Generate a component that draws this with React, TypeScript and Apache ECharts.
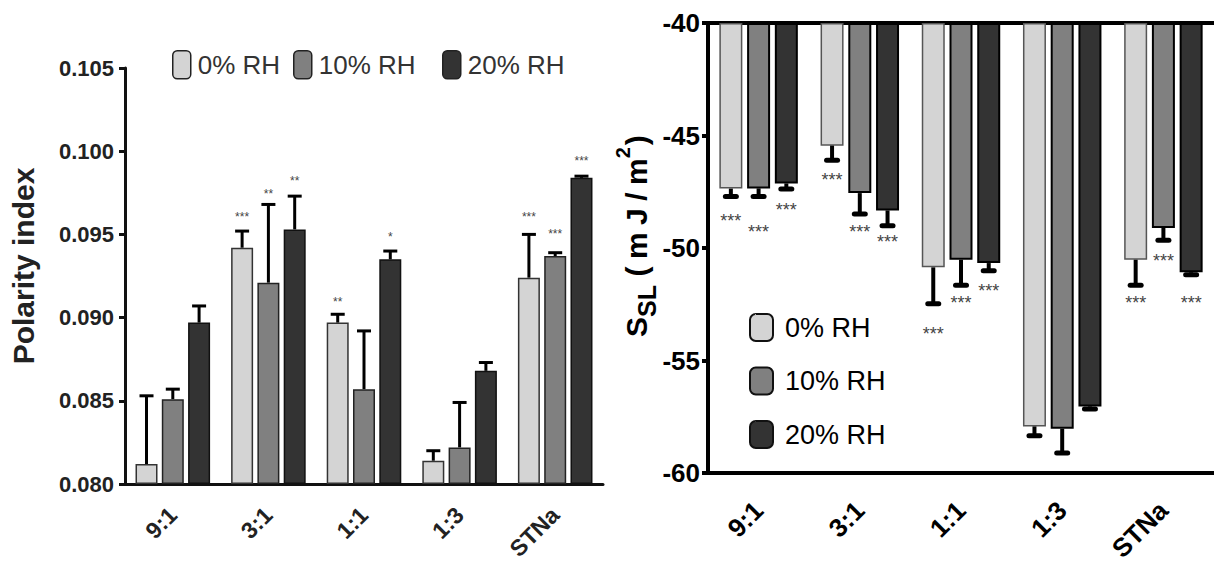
import React, { useEffect, useRef } from 'react';
import * as echarts from 'echarts';

// ---------- data ----------
const CATEGORIES = ['9:1', '3:1', '1:1', '1:3', 'STNa'];
const SERIES_NAMES = ['0% RH', '10% RH', '20% RH'];

// Polarity index (left chart)
const POL_RH0 = [0.0812, 0.0942, 0.0897, 0.0814, 0.0924];
const POL_RH10 = [0.0851, 0.0921, 0.0857, 0.0822, 0.0937];
const POL_RH20 = [0.0897, 0.0953, 0.0935, 0.0868, 0.0984];
const POL_SD_RH0 = [0.0041, 0.0010, 0.0005, 0.0006, 0.0026];
const POL_SD_RH10 = [0.0006, 0.0047, 0.0035, 0.0027, 0.0002];
const POL_SD_RH20 = [0.0010, 0.0020, 0.0005, 0.0005, 0.0001];
const POL_STARS_RH0 = ['', '***', '**', '', '***'];
const POL_STARS_RH10 = ['', '**', '', '', '***'];
const POL_STARS_RH20 = ['', '**', '*', '', '***'];
const POL_STAR_POS_RH0 = [null, 0.0962, 0.0911, null, 0.0962];
const POL_STAR_POS_RH10 = [null, 0.0976, null, null, 0.0952];
const POL_STAR_POS_RH20 = [null, 0.0984, 0.0950, null, 0.0996];
const POL_TICKS = { min: 0.08, max: 0.105, interval: 0.005 };

// S_SL (right chart)
const SSL_RH0 = [-47.36, -45.45, -50.86, -57.93, -50.52];
const SSL_RH10 = [-47.35, -47.56, -50.52, -58.03, -49.11];
const SSL_RH20 = [-47.13, -48.33, -50.67, -57.04, -51.08];
const SSL_SD_RH0 = [0.35, 0.65, 1.62, 0.41, 1.14];
const SSL_SD_RH10 = [0.36, 0.93, 1.14, 1.08, 0.55];
const SSL_SD_RH20 = [0.25, 0.68, 0.34, 0.12, 0.11];
const SSL_STARS_RH0 = ['***', '***', '***', '', '***'];
const SSL_STARS_RH10 = ['***', '***', '***', '', '***'];
const SSL_STARS_RH20 = ['***', '***', '***', '', '***'];
const SSL_STAR_POS_RH0 = [-48.62, -46.79, -53.63, null, -52.25];
const SSL_STAR_POS_RH10 = [-49.11, -49.11, -52.25, null, -50.42];
const SSL_STAR_POS_RH20 = [-48.15, -49.56, -51.72, null, -52.25];
const SSL_TICKS = { min: -60, max: -40, interval: 5 };

// ---------- styling ----------
const FONT = 'Liberation Sans, Arial, sans-serif';
const COLORS = ['#d4d4d4', '#808080', '#333333'];

const L_BAR_W = 22;
const L_GAP = 0.195;
const R_BAR_W = 23;
const R_GAP = 0.206;

function barSeries(name: string, data: number[], color: string, borderColor: string, borderWidth: number,
  axisIdx: number, barWidth: number, gap: number) {
  return {
    type: 'bar', name, data, xAxisIndex: axisIdx, yAxisIndex: axisIdx,
    barWidth, barGap: Math.round(gap * 1000) / 10 + '%',
    itemStyle: { color, borderColor, borderWidth },
    silent: true, clip: true, z: 2,
  };
}

function errorSeries(o: any) {
  const { id, axisIdx, values, sds, dir, offset, stars, starPos, lineWidth, capWidth, capThickness, capRound,
    starSize, starColor, starShift } = o;
  return {
    type: 'custom', name: id, xAxisIndex: axisIdx, yAxisIndex: axisIdx, z: 5, silent: true,
    data: values.map((v: number, i: number) => [i, v, v + dir * sds[i]]),
    encode: { x: 0, y: [1, 2] },
    renderItem: (params: any, api: any) => {
      const i = params.dataIndex;
      const cat = api.value(0);
      const p0 = api.coord([cat, api.value(1)]);
      const p1 = api.coord([cat, api.value(2)]);
      const x = p0[0] + offset;
      const children: any[] = [
        { type: 'line', shape: { x1: x, y1: p0[1], x2: x, y2: p1[1] }, style: { stroke: '#000', lineWidth } },
        {
          type: 'line', shape: { x1: x - capWidth / 2, y1: p1[1], x2: x + capWidth / 2, y2: p1[1] },
          style: { stroke: '#000', lineWidth: capThickness, lineCap: capRound ? 'round' : 'butt' },
        },
      ];
      if (stars[i] && starPos[i] != null) {
        const ps = api.coord([cat, starPos[i]]);
        children.push({
          type: 'text', x, y: ps[1] + starShift,
          style: { text: stars[i], fontSize: starSize, fontFamily: FONT, fill: starColor, align: 'center', verticalAlign: 'middle' },
        });
      }
      return { type: 'group', children };
    },
  };
}

function buildOption() {
  const lOff = L_BAR_W * (1 + L_GAP);
  const rOff = R_BAR_W * (1 + R_GAP);
  const polVals = [POL_RH0, POL_RH10, POL_RH20];
  const polSd = [POL_SD_RH0, POL_SD_RH10, POL_SD_RH20];
  const polStars = [POL_STARS_RH0, POL_STARS_RH10, POL_STARS_RH20];
  const polStarPos = [POL_STAR_POS_RH0, POL_STAR_POS_RH10, POL_STAR_POS_RH20];
  const sslVals = [SSL_RH0, SSL_RH10, SSL_RH20];
  const sslSd = [SSL_SD_RH0, SSL_SD_RH10, SSL_SD_RH20];
  const sslStars = [SSL_STARS_RH0, SSL_STARS_RH10, SSL_STARS_RH20];
  const sslStarPos = [SSL_STAR_POS_RH0, SSL_STAR_POS_RH10, SSL_STAR_POS_RH20];

  const leftBorders = [['#333', 1.5], ['#222', 1.5], ['#111', 1.5]];
  const rightBorders = [['#555', 1.5], ['#000', 2], ['#000', 2]];

  const series: any[] = [];
  SERIES_NAMES.forEach((n, k) => {
    series.push(barSeries(n, polVals[k], COLORS[k], leftBorders[k][0] as string, leftBorders[k][1] as number, 0, L_BAR_W, L_GAP));
  });
  SERIES_NAMES.forEach((n, k) => {
    series.push(barSeries(n, sslVals[k], COLORS[k], rightBorders[k][0] as string, rightBorders[k][1] as number, 1, R_BAR_W, R_GAP));
  });
  SERIES_NAMES.forEach((n, k) => {
    series.push(errorSeries({
      id: 'errL' + k, axisIdx: 0, values: polVals[k], sds: polSd[k], dir: 1, offset: (k - 1) * lOff,
      stars: polStars[k], starPos: polStarPos[k], lineWidth: 3, capWidth: 14, capThickness: 3, capRound: false,
      starSize: 12, starColor: '#444', starShift: 3,
    }));
    series.push(errorSeries({
      id: 'errR' + k, axisIdx: 1, values: sslVals[k], sds: sslSd[k], dir: -1, offset: (k - 1) * rOff,
      stars: sslStars[k], starPos: sslStarPos[k], lineWidth: 4, capWidth: 11, capThickness: 5, capRound: true,
      starSize: 18, starColor: '#444', starShift: 4,
    }));
  });

  const leftLegendX = [172, 293, 442];
  const legends: any[] = SERIES_NAMES.map((n, k) => ({
    data: [n], left: leftLegendX[k], top: 50, padding: 0, icon: 'roundRect',
    itemWidth: 18, itemHeight: 28, selectedMode: false,
    itemStyle: { borderColor: '#222', borderWidth: 1.5 },
    textStyle: { fontSize: 26, fontFamily: FONT, color: '#333', padding: [0, 0, 0, 2] },
  }));
  legends.push({
    data: SERIES_NAMES, orient: 'vertical', left: 749, top: 313, padding: 0, icon: 'roundRect',
    itemWidth: 23, itemHeight: 27, itemGap: 24.5, selectedMode: false,
    itemStyle: { borderColor: '#111', borderWidth: 2 },
    textStyle: { fontSize: 27, fontFamily: FONT, color: '#000', padding: [0, 0, 0, 7] },
  });

  const sp = '\u2005';

  return {
    animation: false,
    backgroundColor: '#fff',
    grid: [
      { left: 125, top: 68, width: 478, height: 416, outerBoundsMode: 'none', containLabel: false },
      { left: 708, top: 23, width: 506, height: 450, outerBoundsMode: 'none', containLabel: false },
    ],
    legend: legends,
    xAxis: [
      {
        type: 'category', gridIndex: 0, data: CATEGORIES, position: 'bottom',
        axisLine: { lineStyle: { color: '#111', width: 3 } },
        axisTick: { alignWithLabel: true, length: 7, lineStyle: { color: '#111', width: 3 } },
        axisLabel: { interval: 0, rotate: 45, margin: 27, fontSize: 23, fontWeight: 'bold', fontFamily: FONT, color: '#222' },
      },
      {
        type: 'category', gridIndex: 1, data: CATEGORIES, position: 'bottom',
        axisLine: { lineStyle: { color: '#000', width: 4 } },
        axisTick: { alignWithLabel: true, length: 6, lineStyle: { color: '#000', width: 4 } },
        axisLabel: { interval: 0, rotate: 45, margin: 33, fontSize: 26, fontWeight: 'bold', fontFamily: FONT, color: '#000' },
      },
      {
        type: 'category', gridIndex: 1, data: CATEGORIES, position: 'top',
        axisLine: { onZero: false, lineStyle: { color: '#000', width: 4 } },
        axisTick: { show: false }, axisLabel: { show: false },
      },
    ],
    yAxis: [
      {
        type: 'value', gridIndex: 0, min: POL_TICKS.min, max: POL_TICKS.max, interval: POL_TICKS.interval,
        startValue: POL_TICKS.min,
        splitLine: { show: false },
        axisLine: { show: true, lineStyle: { color: '#111', width: 3 } },
        axisTick: { show: true, length: 6, lineStyle: { color: '#111', width: 3 } },
        axisLabel: {
          margin: 11, fontSize: 22, fontWeight: 'bold', fontFamily: FONT, color: '#222',
          formatter: (v: number) => v.toFixed(3),
        },
      },
      {
        type: 'value', gridIndex: 1, min: SSL_TICKS.min, max: SSL_TICKS.max, interval: SSL_TICKS.interval,
        startValue: SSL_TICKS.max,
        splitLine: { show: false },
        axisLine: { show: true, lineStyle: { color: '#000', width: 4 } },
        axisTick: { show: true, length: 6, lineStyle: { color: '#000', width: 4 } },
        axisLabel: { margin: 8, fontSize: 26, fontWeight: 'bold', fontFamily: FONT, color: '#000' },
      },
    ],
    graphic: [
      {
        type: 'text', x: 23, y: 266, rotation: Math.PI / 2, silent: true,
        style: { text: 'Polarity index', fontSize: 30, fontWeight: 'bold', fontFamily: FONT, fill: '#222', align: 'center', verticalAlign: 'middle' },
      },
      {
        type: 'text', x: 636.5, y: 236, rotation: Math.PI / 2, silent: true,
        style: {
          text: '{a|S}{b|SL}{a| (' + sp + 'm' + sp + 'J' + sp + '/' + sp + 'm}{c|2}{a|)}',
          align: 'center', verticalAlign: 'middle', fill: '#000',
          rich: {
            a: { fontSize: 30, fontWeight: 'bold', fontFamily: FONT, fill: '#000' },
            b: { fontSize: 25, fontWeight: 'bold', fontFamily: FONT, fill: '#000', padding: [20, 0, 0, 0] },
            c: { fontSize: 20, fontWeight: 'bold', fontFamily: FONT, fill: '#000', padding: [0, 2, 28, 0] },
          },
        },
      },
    ],
    series,
  };
}

export default function App() {
  const ref = useRef<HTMLDivElement>(null);
  useEffect(() => {
    if (!ref.current) return;
    const chart = echarts.init(ref.current, undefined, { renderer: 'svg' });
    chart.setOption(buildOption() as any);
    return () => chart.dispose();
  }, []);
  return (
    <div
      ref={ref}
      style={{ position: 'fixed', left: 0, top: 0, width: 1214, height: 563, background: '#fff' }}
    />
  );
}
